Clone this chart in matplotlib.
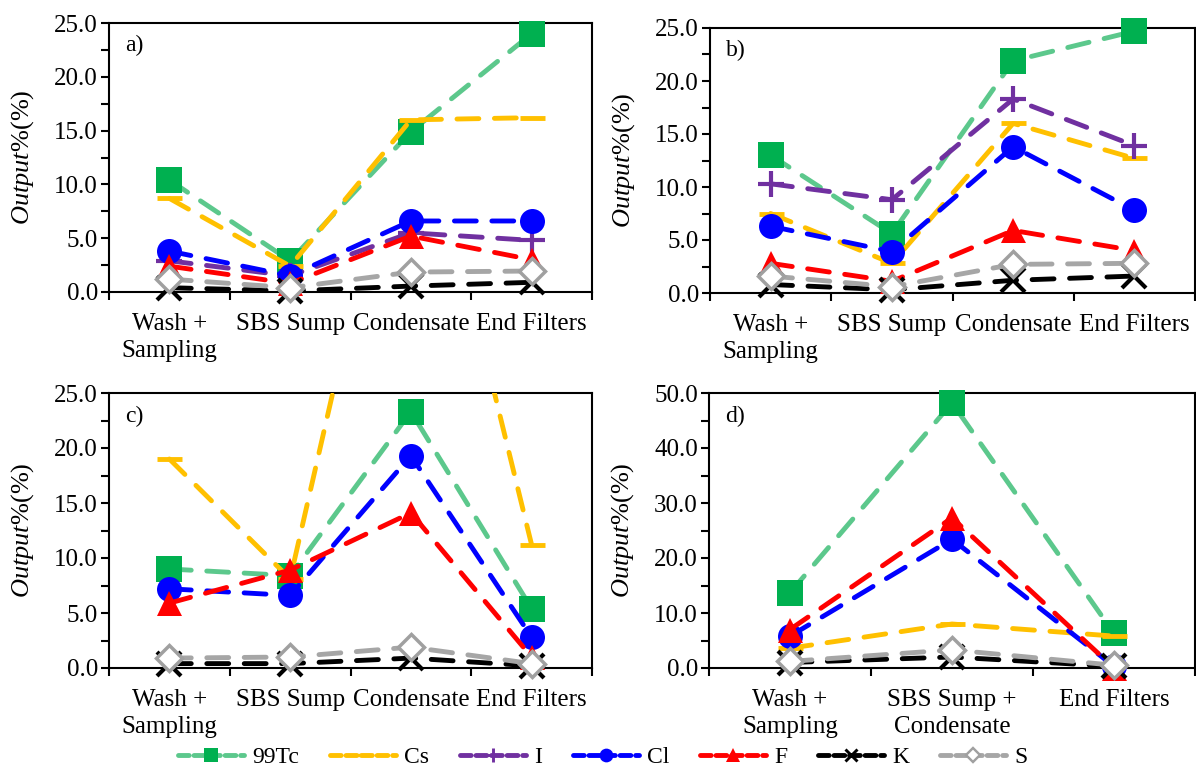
import numpy as np
import matplotlib
matplotlib.use("Agg")
import matplotlib.pyplot as plt
from matplotlib.lines import Line2D
from matplotlib.ticker import FixedLocator, MultipleLocator, FormatStrFormatter, NullFormatter

plt.rcParams['font.family'] = ['Liberation Serif', 'DejaVu Serif']
plt.rcParams['mathtext.fontset'] = 'custom'
plt.rcParams['mathtext.rm'] = 'Liberation Serif'
plt.rcParams['mathtext.it'] = 'Liberation Serif:italic'

# ---------------- data ----------------
cats_abc = ["Wash +\nSampling", "SBS Sump", "Condensate", "End Filters"]
cats_d = ["Wash +\nSampling", "SBS Sump +\nCondensate", "End Filters"]
series_names = ["99Tc", "Cs", "I", "Cl", "F", "K", "S"]

tc_a = [10.4, 2.9, 14.9, 24.0]
cs_a = [8.7, 2.4, 16.0, 16.2]
i_a = [2.9, 1.5, 5.5, 4.8]
cl_a = [3.8, 1.5, 6.6, 6.6]
f_a = [2.4, 0.8, 5.2, 3.0]
k_a = [0.4, 0.1, 0.55, 0.9]
s_a = [1.2, 0.4, 1.85, 1.95]

tc_b = [13.0, 5.6, 21.9, 24.7]
cs_b = [7.5, 2.8, 16.0, 12.7]
i_b = [10.3, 8.8, 18.3, 13.9]
cl_b = [6.3, 3.9, 13.8, 7.8]
f_b = [2.8, 1.1, 5.9, 4.0]
k_b = [0.8, 0.3, 1.2, 1.6]
s_b = [1.6, 0.6, 2.7, 2.8]

tc_c = [9.0, 8.4, 23.3, 5.4]
cs_c = [19.0, 8.1, 56.0, 11.2]
i_c = None
cl_c = [7.2, 6.6, 19.3, 2.8]
f_c = [5.9, 8.9, 14.1, 1.0]
k_c = [0.4, 0.4, 0.9, 0.2]
s_c = [0.9, 1.0, 1.9, 0.4]

tc_d = [13.7, 48.2, 6.3]
cs_d = [3.6, 8.0, 5.8]
i_d = None
cl_d = [5.8, 23.4, 0.3]
f_d = [7.0, 27.3, 0.0]
k_d = [1.0, 2.0, 0.3]
s_d = [1.2, 3.3, 0.5]

panel_labels = ["a)", "b)", "c)", "d)"]
ymax = [25, 25, 25, 50]
ymajor = [5, 5, 5, 10]

# ---------------- styles ----------------
styles = {
    "99Tc": dict(lc="#5CC88C", marker="s", mfc="#00B050", mec="#00B050", ms=19, mew=0),
    "Cs":   dict(lc="#FFC000", marker="_", mfc="#FFC000", mec="#FFC000", ms=18, mew=3.5),
    "I":    dict(lc="#7030A0", marker="+", mfc="#7030A0", mec="#7030A0", ms=19, mew=3),
    "Cl":   dict(lc="#0000FF", marker="o", mfc="#0000FF", mec="#0000FF", ms=18, mew=0),
    "F":    dict(lc="#FF0000", marker="^", mfc="#FF0000", mec="#FF0000", ms=18, mew=0),
    "K":    dict(lc="#000000", marker="x", mfc="#000000", mec="#000000", ms=17, mew=3),
    "S":    dict(lc="#A6A6A6", marker="D", mfc="white", mec="#A0A0A0", ms=13, mew=2.5),
}
LW = 3.5
DASH = (4.5, 3.2)

fig = plt.figure(figsize=(11.96, 7.79), dpi=100)
W, H = 1196.0, 779.0
boxes = [(109, 592, 23, 292), (710, 1195, 28, 293), (109, 592, 393, 668), (709, 1195, 393, 668)]
axes = []
for (l, r, t, b) in boxes:
    axes.append(fig.add_axes([l / W, 1 - b / H, (r - l) / W, (b - t) / H]))

panel_data = [
    (cats_abc, [tc_a, cs_a, i_a, cl_a, f_a, k_a, s_a]),
    (cats_abc, [tc_b, cs_b, i_b, cl_b, f_b, k_b, s_b]),
    (cats_abc, [tc_c, cs_c, i_c, cl_c, f_c, k_c, s_c]),
    (cats_d, [tc_d, cs_d, i_d, cl_d, f_d, k_d, s_d]),
]

for pi, (ax, (cats, vals)) in enumerate(zip(axes, panel_data)):
    n = len(cats)
    x = np.arange(n) + 0.5
    for si, (name, v) in enumerate(zip(series_names, vals)):
        if v is None:
            continue
        st = styles[name]
        v = np.asarray(v, dtype=float)
        z = 3 + si * 0.1
        ln, = ax.plot(x, v, color=st["lc"], lw=LW, zorder=z, clip_on=True,
                      solid_capstyle='round', dash_capstyle='round')
        ln.set_dashes(DASH)
        inside = v <= ymax[pi]
        ax.plot(x[inside], v[inside], ls='none', marker=st["marker"], ms=st["ms"],
                mfc=st["mfc"], mec=st["mec"], mew=st["mew"], zorder=z + 0.05, clip_on=False)
    ax.set_xlim(0, n)
    ax.set_ylim(0, ymax[pi])
    ax.xaxis.set_major_locator(FixedLocator(np.arange(n + 1)))
    ax.xaxis.set_major_formatter(NullFormatter())
    ax.xaxis.set_minor_locator(FixedLocator(x))
    ax.set_xticklabels(cats, minor=True, fontsize=18, linespacing=1.3)
    ax.tick_params(axis='x', which='major', direction='out', length=6, width=1.5)
    ax.tick_params(axis='x', which='minor', length=0, pad=15)
    ax.yaxis.set_major_locator(MultipleLocator(ymajor[pi]))
    ax.yaxis.set_minor_locator(MultipleLocator(ymajor[pi] / 2))
    ax.yaxis.set_major_formatter(FormatStrFormatter('%.1f'))
    ax.tick_params(axis='y', which='both', direction='out', length=6, width=1.5, labelsize=18, pad=2)
    for sp in ax.spines.values():
        sp.set_linewidth(1.5)
    ax.set_ylabel(r'$\mathit{Output\%}$(%)', fontsize=19)
    ax.yaxis.label.set_va('center')
    ax.yaxis.set_label_coords(-0.178, 0.5)
    ax.text(0.033, 0.915, panel_labels[pi], transform=ax.transAxes, fontsize=17,
            ha='left', va='center')

handles = []
for name in series_names:
    st = styles[name]
    h = Line2D([], [], color=st["lc"], lw=LW, marker=st["marker"], ms=st["ms"] * 0.55,
               mfc=st["mfc"], mec=st["mec"], mew=st["mew"] * 0.7,
               dash_capstyle='round', solid_capstyle='round')
    h.set_dashes((2.2, 1.0))
    handles.append(h)
fig.legend(handles, series_names, loc='center', bbox_to_anchor=(0.504, 0.028), ncol=7,
           frameon=False, fontsize=17, handlelength=2.8, handletextpad=0.35, columnspacing=1.3)

fig.savefig("out.png", dpi=100)
